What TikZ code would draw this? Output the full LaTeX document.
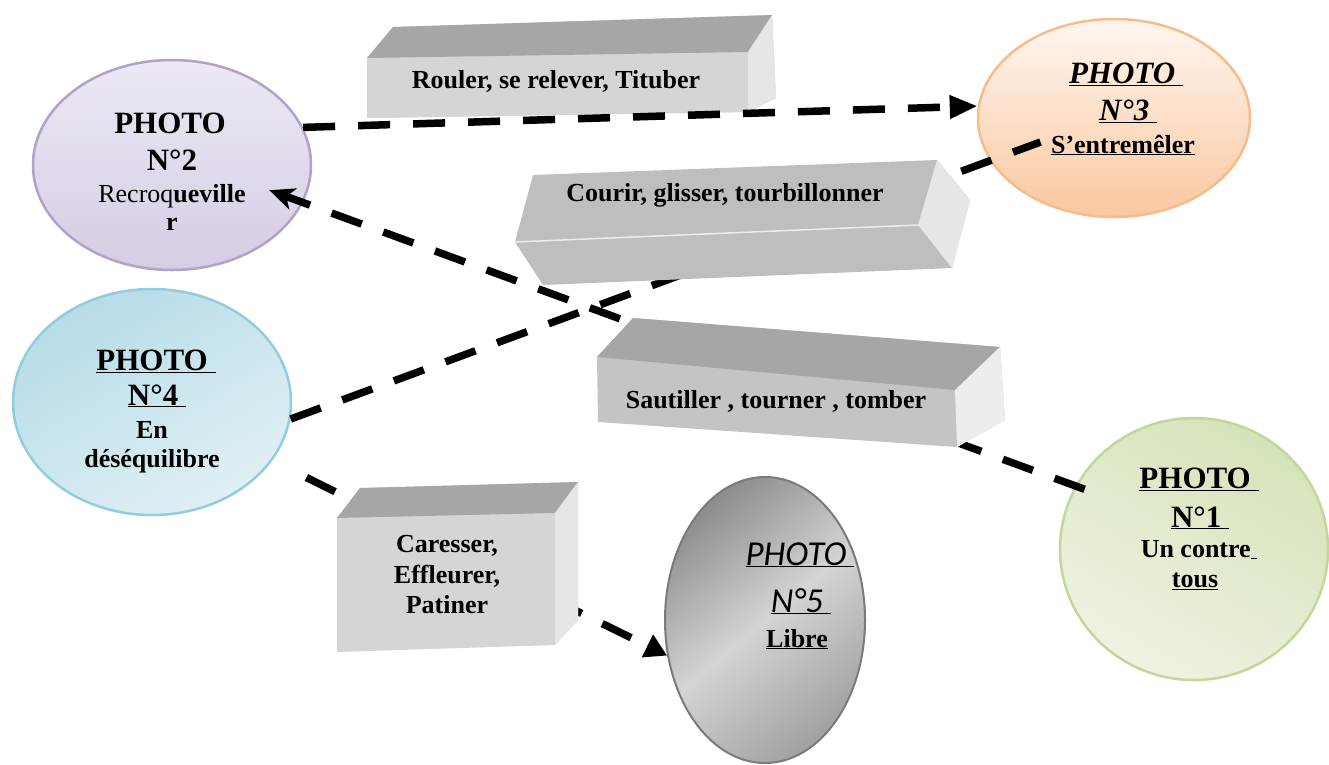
\documentclass[tikz,border=0pt]{standalone}
\usepackage{fontspec}
\setmainfont{Liberation Serif}
\newfontfamily\cali{Carlito}
\usetikzlibrary{arrows.meta,shapes.geometric}
\definecolor{ltop}{HTML}{EDE8F4}\definecolor{lbot}{HTML}{D6CCE4}\definecolor{lline}{HTML}{B3A2C7}
\definecolor{otop}{HTML}{FFF6EF}\definecolor{obot}{HTML}{FAC8A0}\definecolor{oline}{HTML}{F8BC8A}
\definecolor{btop}{HTML}{B6DCE7}\definecolor{bbot}{HTML}{E0F0F5}\definecolor{bline}{HTML}{93CDDD}
\definecolor{gtop}{HTML}{D5E3B9}\definecolor{gbot}{HTML}{EEF3E3}\definecolor{gline}{HTML}{C3D69B}
\definecolor{mtop}{HTML}{8E8E8E}\definecolor{mmid}{HTML}{D4D4D4}\definecolor{mbot}{HTML}{A2A2A2}\definecolor{mline}{HTML}{7A7A7A}
\definecolor{facetop}{HTML}{A6A6A6}\definecolor{facefront}{HTML}{D5D5D5}\definecolor{faceright}{HTML}{E6E6E6}
\definecolor{facemid}{HTML}{BEBEBE}\definecolor{facefrontb}{HTML}{C4C4C4}
\newcommand\bigf{\fontsize{31}{36}\selectfont\bfseries}
\newcommand\smallf{\fontsize{26}{30}\selectfont\bfseries}
\begin{document}
\begin{tikzpicture}[x=1pt,y=-1pt,
  ell/.style={ellipse,inner sep=0pt,line width=2.5pt},
  lbl/.style={anchor=base,inner sep=0pt},
  conn/.style={line width=7.5pt,dash pattern=on 32pt off 23pt}]
\useasboundingbox (0,0) rectangle (1329,764);
% ellipses
\node[ell,minimum width=278pt,minimum height=210pt,top color=ltop,bottom color=lbot,draw=lline] (p2) at (172,165) {};
\node[ell,minimum width=272pt,minimum height=198pt,top color=otop,bottom color=obot,draw=oline] (p3) at (1114,118) {};
\node[ell,minimum width=278pt,minimum height=226pt,top color=btop,bottom color=bbot,shading angle=30,draw=bline] (p4) at (152,402) {};
\node[ell,minimum width=268pt,minimum height=262pt,top color=gtop,bottom color=gbot,shading angle=-30,draw=gline] (p1) at (1194,549) {};
\node[ell,minimum width=200pt,minimum height=286pt,top color=mtop,bottom color=mbot,middle color=mmid,shading angle=40,draw=mline,line width=2pt] (p5) at (765,620) {};
% box 1 (under the line a)
\fill[facefront] (367,58) -- (393,27) -- (772,15) -- (776,98) -- (748,112) -- (367,118) -- cycle;
\fill[facefront] (367,58) -- (748,52) -- (748,112) -- (367,118) -- cycle;
\fill[facetop] (367,58) -- (393,27) -- (772,15) -- (748,52) -- cycle;
\fill[faceright] (748,52) -- (772,15) -- (776,98) -- (748,112) -- cycle;
% connectors
\draw[conn,-{Triangle[length=28pt,width=22pt]}] (p2.16) -- (p3.175);
\draw[conn,shorten <=-10pt,shorten >=-36pt,-{Stealth[length=25pt,width=22pt,inset=7pt]}] (p1.152) -- (p2.-16);
\draw[conn,shorten >=-54pt] (p4.-7) -- (p3.199);
\draw[conn,shorten <=38pt,-{Triangle[length=22pt,width=24pt]}] (p4.-26) -- (p5.200);
% box 2
\fill[facemid] (533,175) -- (937,160) -- (970,200) -- (952,268) -- (543,285) -- (515,242) -- cycle;
\fill[faceright] (937,160) -- (970,200) -- (952,268) -- (918,225) -- cycle;
\draw[white!85!gray,line width=1.5pt] (515,242) -- (918,225);
% box 3
\fill[facefrontb] (597,357) -- (633,318) -- (1000,347) -- (1005,420) -- (957,447) -- (598,422) -- cycle;
\fill[facetop] (597,357) -- (633,318) -- (1000,347) -- (955,390) -- cycle;
\fill[faceright!70!white] (955,390) -- (1000,347) -- (1005,420) -- (957,447) -- cycle;
% box 4
\fill[facefront] (337,518) -- (360,488) -- (578,482) -- (578,620) -- (555,645) -- (337,652) -- cycle;
\fill[facetop] (337,518) -- (360,488) -- (578,482) -- (555,513) -- cycle;
\fill[faceright] (555,513) -- (578,482) -- (578,620) -- (555,645) -- cycle;
% box texts
\node[lbl,font=\smallf] (b1) at (556,88) {Rouler, se relever, Tituber};
\node[lbl,font=\smallf] (b2) at (725,201) {Courir, glisser, tourbillonner};
\node[lbl,font=\smallf] (b3) at (776,408) {Sautiller , tourner , tomber};
\node[lbl,font=\smallf] (b4a) at (447,552) {Caresser,};
\node[lbl,font=\smallf] (b4b) at (447,583) {Effleurer,};
\node[lbl,font=\smallf] (b4c) at (447,613) {Patiner};
% photo 2
\node[lbl,font=\bigf] (t2a) at (170,133) {PHOTO};
\node[lbl,font=\bigf] (t2b) at (172,170) {N°2};
\node[lbl,font=\smallf] (t2c) at (172,202) {\mdseries Recroq\bfseries ueville};
\node[lbl,font=\smallf] (t2d) at (172,230) {r};
% photo 3
\node[lbl,font=\bigf\itshape] (t3a) at (1126,83) {\underline{PHOTO\ }};
\node[lbl,font=\bigf\itshape] (t3b) at (1128,120) {\underline{N°3\ }};
\node[lbl,font=\smallf] (t3c) at (1123,153) {\underline{S’entremêler}};
% photo 4
\node[lbl,font=\bigf] (t4a) at (156,370) {\underline{PHOTO\ }};
\node[lbl,font=\bigf] (t4b) at (157,405) {\underline{N°4\ }};
\node[lbl,font=\smallf] (t4c) at (152,438) {En};
\node[lbl,font=\smallf] (t4d) at (152,467) {déséquilibre};
% photo 1
\node[lbl,font=\bigf] (t1a) at (1199,488) {\underline{PHOTO\ }};
\node[lbl,font=\bigf] (t1b) at (1200,527) {\underline{N°1\ }};
\node[lbl,font=\smallf] (t1c) at (1199,557) {Un contre\underline{\ }};
\node[lbl,font=\smallf] (t1d) at (1195,587) {\underline{tous}};
% photo 5
\node[lbl,font=\fontsize{35}{40}\selectfont\cali\itshape] (t5a) at (800,565) {\underline{PHOTO\ }};
\node[lbl,font=\fontsize{35}{40}\selectfont\cali\itshape] (t5b) at (801,612) {\underline{N°5\ }};
\node[lbl,font=\smallf] (t5c) at (797,647) {\underline{Libre}};
\end{tikzpicture}
\end{document}
